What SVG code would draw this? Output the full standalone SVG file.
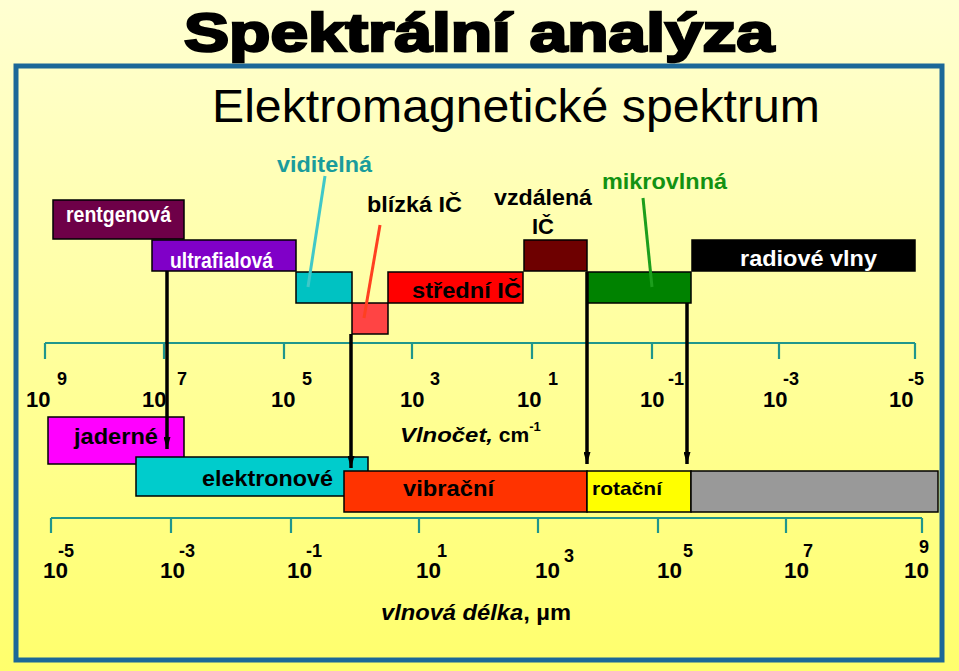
<svg xmlns="http://www.w3.org/2000/svg" width="959" height="671" viewBox="0 0 959 671">
<defs>
<linearGradient id="bg" x1="0" y1="0" x2="0" y2="1">
<stop offset="0" stop-color="#FFFFD2"/>
<stop offset="1" stop-color="#FFFF6C"/>
</linearGradient>
<marker id="ah" viewBox="0 0 12 7" refX="12" refY="3.5" markerWidth="12" markerHeight="7" markerUnits="userSpaceOnUse" orient="auto">
<path d="M0,0 L12,3.5 L0,7 z" fill="#000"/>
</marker>
</defs>
<style>
text{font-family:"Liberation Sans",Arial,sans-serif;font-weight:bold}
.box{stroke:#000;stroke-width:1.5}
.lbl{font-size:22px}
.w{fill:#fff}
.k{fill:#000}
.num{font-size:22px;fill:#000}
.sup{font-size:18px;fill:#000}
.bnum{font-size:22px;fill:#000}
.axis{stroke:#20968C;stroke-width:2.2;fill:none}
.arr{stroke:#000;stroke-width:3.5;fill:none}
.ptr{stroke-width:3;fill:none}
</style>
<rect x="0" y="0" width="959" height="671" fill="url(#bg)"/>
<rect x="16" y="66" width="926" height="594" fill="none" stroke="#1C6898" stroke-width="5"/>
<text x="184" y="51" font-size="53" textLength="590" lengthAdjust="spacingAndGlyphs" stroke="#000" stroke-width="2.5" fill="#000">Spektrální analýza</text>
<text x="212" y="122" font-size="47" style="font-weight:normal" textLength="608" lengthAdjust="spacingAndGlyphs" fill="#000">Elektromagnetické spektrum</text>

<g id="rentgenova"><rect class="box" x="53" y="200" width="131" height="39" fill="#6E0048"/><text class="lbl w" x="66" y="222" textLength="105" lengthAdjust="spacingAndGlyphs">rentgenová</text></g>
<g id="ultrafialova"><rect class="box" x="152" y="240" width="144" height="31" fill="#8000C8"/><text class="lbl w" x="170" y="268" textLength="103" lengthAdjust="spacingAndGlyphs">ultrafialová</text></g>
<g id="viditelna"><rect class="box" x="296" y="272" width="56" height="31" fill="#00C2C2"/><text class="lbl" fill="#1A9C9C" x="277" y="172" textLength="95" lengthAdjust="spacingAndGlyphs">viditelná</text></g>
<g id="blizka"><rect class="box" x="352" y="303" width="36" height="31" fill="#FF4444"/><text class="lbl k" x="367" y="212" textLength="95" lengthAdjust="spacingAndGlyphs">blízká IČ</text></g>
<g id="stredni"><rect class="box" x="388" y="272" width="135" height="31" fill="#FF0000"/><text class="lbl k" x="412" y="298" textLength="109" lengthAdjust="spacingAndGlyphs">střední IČ</text></g>
<g id="vzdalena"><rect class="box" x="524" y="240" width="63" height="31" fill="#6E0000"/><text class="lbl k" x="494" y="205" textLength="98" lengthAdjust="spacingAndGlyphs">vzdálená</text><text class="lbl k" x="532" y="234" textLength="22" lengthAdjust="spacingAndGlyphs">IČ</text></g>
<g id="mikrovlnna"><rect class="box" x="587" y="272" width="104" height="31" fill="#008200"/><text class="lbl" fill="#129212" x="602" y="189" textLength="125" lengthAdjust="spacingAndGlyphs">mikrovlnná</text></g>
<g id="radiove"><rect class="box" x="692" y="240" width="223" height="31" fill="#000"/><text class="lbl w" x="740" y="266" textLength="137" lengthAdjust="spacingAndGlyphs">radiové vlny</text></g>

<g id="axis-top">
<path class="axis" d="M45,343 H915 M45,343 V359 M164,343 V359 M284,343 V359 M412,343 V359 M532,343 V359 M652,343 V359 M779,343 V359 M915,343 V359"/>
<text class="num" x="26" y="407">10</text><text class="sup" x="57" y="385">9</text>
<text class="num" x="142" y="407">10</text><text class="sup" x="177" y="385">7</text>
<text class="num" x="271" y="407">10</text><text class="sup" x="302" y="385">5</text>
<text class="num" x="400" y="407">10</text><text class="sup" x="430" y="385">3</text>
<text class="num" x="517" y="407">10</text><text class="sup" x="548" y="385">1</text>
<text class="num" x="640" y="407">10</text><text class="sup" x="668" y="385">-1</text>
<text class="num" x="763" y="407">10</text><text class="sup" x="783" y="385">-3</text>
<text class="num" x="889" y="407">10</text><text class="sup" x="908" y="385">-5</text>
<text x="400" y="442" font-size="21" fill="#000"><tspan font-style="italic" textLength="93" lengthAdjust="spacingAndGlyphs">Vlnočet,</tspan> cm<tspan font-size="13" dy="-11">-1</tspan></text>
</g>

<g id="jaderne"><rect class="box" x="48" y="417" width="136" height="47" fill="#FF00FF"/><text class="lbl k" x="74" y="444" textLength="84" lengthAdjust="spacingAndGlyphs">jaderné</text></g>
<g id="elektronove"><rect class="box" x="136" y="457" width="232" height="39" fill="#00CCCC"/><text class="lbl k" x="202" y="486" textLength="131" lengthAdjust="spacingAndGlyphs">elektronové</text></g>
<g id="vibracni"><rect class="box" x="344" y="471" width="243" height="41" fill="#FF3300"/><text class="lbl k" x="403" y="496" textLength="91" lengthAdjust="spacingAndGlyphs">vibrační</text></g>
<g id="rotacni"><rect class="box" x="587" y="471" width="104" height="41" fill="#FFFF00"/><text class="k" font-size="19" x="592" y="495" textLength="70" lengthAdjust="spacingAndGlyphs">rotační</text></g>
<g id="ostatni"><rect class="box" x="691" y="471" width="247" height="41" fill="#999999"/></g>

<g id="axis-bottom">
<path class="axis" d="M51,518 H922 M51,518 V533 M171,518 V533 M291,518 V533 M419,518 V533 M538,518 V533 M658,518 V533 M786,518 V533 M922,518 V533"/>
<text class="bnum" x="43" y="578" textLength="25" lengthAdjust="spacingAndGlyphs">10</text><text class="sup" x="58" y="557">-5</text>
<text class="bnum" x="160" y="578" textLength="25" lengthAdjust="spacingAndGlyphs">10</text><text class="sup" x="179" y="557">-3</text>
<text class="bnum" x="287" y="578" textLength="25" lengthAdjust="spacingAndGlyphs">10</text><text class="sup" x="306" y="557">-1</text>
<text class="bnum" x="416" y="578" textLength="25" lengthAdjust="spacingAndGlyphs">10</text><text class="sup" x="437" y="557">1</text>
<text class="bnum" x="535" y="578" textLength="25" lengthAdjust="spacingAndGlyphs">10</text><text class="sup" x="564" y="562">3</text>
<text class="bnum" x="657" y="578" textLength="25" lengthAdjust="spacingAndGlyphs">10</text><text class="sup" x="683" y="557">5</text>
<text class="bnum" x="784" y="578" textLength="25" lengthAdjust="spacingAndGlyphs">10</text><text class="sup" x="803" y="557">7</text>
<text class="bnum" x="904" y="578" textLength="25" lengthAdjust="spacingAndGlyphs">10</text><text class="sup" x="919" y="553">9</text>
<text x="381" y="620" font-size="22" fill="#000" textLength="190" lengthAdjust="spacingAndGlyphs"><tspan font-style="italic">vlnová délka</tspan>, µm</text>
</g>

<g id="connectors">
<line class="ptr" stroke="#40C8C8" x1="325" y1="176" x2="308" y2="287"/>
<line class="ptr" stroke="#FF4020" x1="380" y1="225" x2="364" y2="318"/>
<line class="ptr" stroke="#1C9E1C" x1="643" y1="198" x2="652" y2="287"/>
<line class="arr" x1="167" y1="271" x2="167" y2="449" marker-end="url(#ah)"/>
<line class="arr" x1="351" y1="334" x2="351" y2="468" marker-end="url(#ah)"/>
<line class="arr" x1="587" y1="272" x2="587" y2="464" marker-end="url(#ah)"/>
<line class="arr" x1="687" y1="303" x2="687" y2="464" marker-end="url(#ah)"/>
</g>
</svg>
